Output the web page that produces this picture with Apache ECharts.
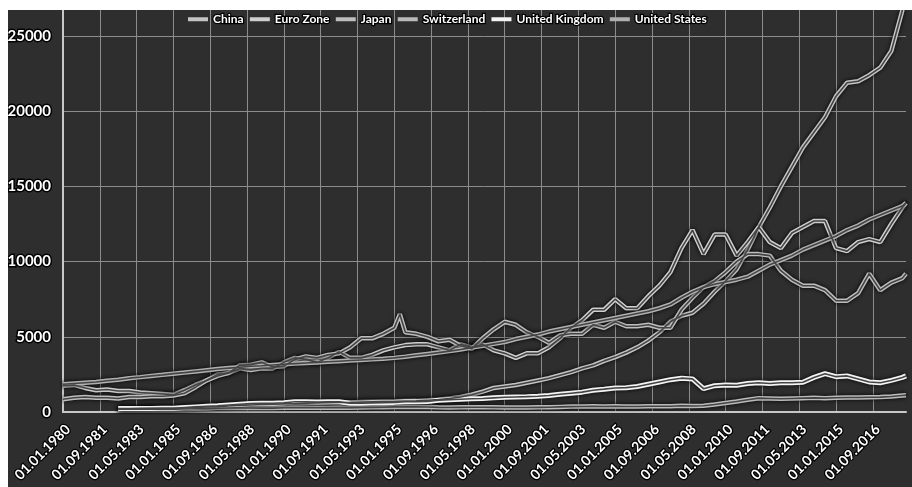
<!DOCTYPE html>
<html>
<head>
<meta charset="utf-8">
<script src="https://cdn.jsdelivr.net/npm/echarts@6/dist/echarts.min.js"></script>
<style>
  html, body { margin: 0; padding: 0; background: #ffffff; }
  #chart { position: absolute; left: 0; top: 0; width: 912px; height: 487px; }
  .mask { position: absolute; background: #ffffff; z-index: 10; }
</style>
</head>
<body>
<div id="chart"></div>
<div class="mask" style="left:0;top:0;width:912px;height:10px;"></div>
<div class="mask" style="left:0;top:0;width:8px;height:487px;"></div>
<script>
// ---- data ----
const seriesNames = ['China', 'Euro Zone', 'Japan', 'Switzerland', 'United Kingdom', 'United States'];

const sampleDates = [
  '1980-01','1980-07','1981-01','1981-07','1982-01','1982-07','1983-01','1983-07','1984-01','1984-07',
  '1985-01','1985-07','1986-01','1986-07','1987-01','1987-07','1988-01','1988-07','1989-01','1989-07',
  '1990-01','1990-07','1991-01','1991-07','1992-01','1992-07','1993-01','1993-07','1994-01','1994-07',
  '1995-01','1995-04','1995-07','1996-01','1996-07','1997-01','1997-07','1998-01','1998-07','1999-01','1999-07',
  '2000-01','2000-07','2001-01','2001-07','2002-01','2002-07','2003-01','2003-07','2004-01','2004-07',
  '2005-01','2005-07','2006-01','2006-07','2007-01','2007-07','2008-01','2008-07','2009-01','2009-07',
  '2010-01','2010-07','2011-01','2011-07','2012-01','2012-07','2013-01','2013-07','2014-01','2014-07',
  '2015-01','2015-07','2016-01','2016-07','2017-01','2017-07','2018-01','2018-03'
];

const china = [
  null,null,null,null,null,200,210,220,230,240,
  250,270,300,330,360,400,440,470,500,520,
  540,560,590,610,620,630,640,660,680,700,
  710,null,730,740,780,820,900,1000,1150,1350,1600,
  1700,1800,1950,2100,2250,2450,2650,2900,3100,3400,
  3650,3950,4300,4750,5300,6000,6400,6600,7200,8000,
  8700,9500,10800,12300,13600,15000,16300,17600,18600,19600,
  21000,21900,22000,22400,22900,24000,26700,28500
];
const euroZone = [
  1750,1800,1600,1450,1500,1400,1400,1300,1250,1200,
  1150,1450,1800,2100,2500,2600,2900,2800,2900,2900,
  3300,3600,3500,3300,3600,4000,3600,3600,3800,4100,
  4300,null,4450,4500,4500,4300,4100,4500,4300,4500,4100,
  3900,3600,3900,3900,4300,4900,5600,6100,6800,6800,
  7500,6900,6900,7700,8400,9300,10900,12100,10500,11800,
  11800,10400,11300,12300,11300,10900,11900,12300,12700,12700,
  10900,10700,11300,11500,11300,12500,13600,13900
];
const japan = [
  850,950,1000,950,950,900,1000,1000,1050,1050,
  1100,1250,1650,2100,2400,2600,3100,3150,3300,3000,
  3050,3500,3700,3600,3800,3900,4300,4900,4900,5200,
  5600,6500,5300,5200,5000,4700,4800,4400,4200,4900,5500,
  6000,5800,5300,5000,4600,5100,5200,5200,5800,5600,
  6000,5700,5700,5800,5600,5600,6800,7600,8300,8700,
  9300,10000,10500,10500,10400,9400,8800,8400,8400,8100,
  7400,7400,7900,9200,8100,8600,8900,9200
];
const switzerland = [
  null,null,null,null,null,180,180,190,190,190,
  190,200,220,240,260,270,280,270,260,260,
  280,300,290,280,290,300,290,300,310,320,
  340,null,350,340,330,310,300,310,320,320,310,
  300,300,300,310,320,340,360,370,380,370,
  380,370,370,380,380,380,420,400,420,500,
  600,700,820,920,900,880,900,920,940,920,
  950,960,960,980,990,1030,1100,1120
];
const unitedKingdom = [
  null,null,null,null,null,230,230,240,240,250,
  250,300,340,380,420,470,520,560,580,580,
  620,680,680,660,680,680,580,590,610,620,
  640,null,680,680,700,780,820,850,880,900,940,
  980,1000,1020,1050,1100,1180,1250,1320,1450,1520,
  1600,1620,1700,1850,2000,2150,2250,2200,1550,1750,
  1800,1780,1900,1950,1900,1950,1950,1980,2300,2550,
  2350,2400,2200,2000,1950,2100,2300,2400
];
const unitedStates = [
  1850,1900,1950,2000,2080,2150,2250,2320,2400,2470,
  2550,2620,2700,2780,2860,2920,2980,3040,3080,3130,
  3180,3220,3260,3300,3340,3380,3420,3460,3500,3540,
  3600,null,3680,3770,3860,3950,4050,4160,4280,4400,4530,
  4650,4850,5000,5150,5350,5500,5650,5800,5950,6100,
  6250,6400,6550,6700,6900,7150,7600,8000,8300,8500,
  8650,8800,9000,9400,9800,10100,10400,10800,11100,11400,
  11700,12100,12400,12800,13100,13400,13700,13900
];

const yTicks = [0, 5000, 10000, 15000, 20000, 25000];

// ---- monthly category axis 1980-01 .. 2018-03 ----
const firstYear = 1980, monthCount = 459;
const categories = [];
for (let m = 0; m < monthCount; m++) {
  const y = firstYear + Math.floor(m / 12);
  const mo = (m % 12) + 1;
  categories.push('01.' + (mo < 10 ? '0' + mo : mo) + '.' + y);
}
function toMonthly(values) {
  const out = new Array(monthCount).fill(null);
  sampleDates.forEach((d, i) => {
    const y = parseInt(d.slice(0, 4), 10), mo = parseInt(d.slice(5, 7), 10);
    const idx = (y - firstYear) * 12 + (mo - 1);
    if (values[i] !== null && values[i] !== undefined) out[idx] = values[i];
  });
  return out;
}

const seriesValues = [china, euroZone, japan, switzerland, unitedKingdom, unitedStates];
const outerColors = ['#c4c4c4', '#cfcfcf', '#bdbdbd', '#bababa', '#f4f4f4', '#b0b0b0'];

const series = [];
seriesValues.forEach((vals, i) => {
  series.push({
    name: seriesNames[i], type: 'line', data: toMonthly(vals), connectNulls: true,
    showSymbol: false, symbol: 'none', z: 2 + i,
    lineStyle: { color: outerColors[i], width: i === 4 ? 5 : 4.5,
      shadowColor: 'rgba(0,0,0,0.95)', shadowBlur: 4 },
    itemStyle: { color: outerColors[i] }
  });
});
seriesValues.forEach((vals, i) => {
  series.push({
    name: seriesNames[i] + ' core', type: 'line', data: toMonthly(vals), connectNulls: true,
    showSymbol: false, symbol: 'none', silent: true, z: 20,
    lineStyle: { color: '#444444', width: 1.6 }
  });
});

const labelText = {
  color: '#ffffff', fontFamily: 'Lato', fontWeight: 'bold', fontSize: 14,
  textBorderColor: '#000000', textBorderWidth: 2.5
};

const chart = echarts.init(document.getElementById('chart'), null, { renderer: 'canvas' });
chart.setOption({
  animation: false,
  backgroundColor: '#2e2e2e',
  legend: {
    data: seriesNames, left: 188, top: 10, padding: [2, 0, 2, 0],
    itemWidth: 20, itemHeight: 4, itemGap: 5,
    icon: 'rect',
    textStyle: { color: '#ffffff', fontFamily: 'Lato', fontWeight: 'bold', fontSize: 12,
      textBorderColor: '#000000', textBorderWidth: 2.5 }
  },
  grid: { left: 63, right: 6, top: 0, bottom: 75 },
  xAxis: {
    type: 'category', data: categories, boundaryGap: false,
    axisLine: { show: true, lineStyle: { color: '#c8c8c8', width: 2 } },
    axisTick: { show: false },
    axisLabel: Object.assign({ interval: 19, rotate: 45, margin: 10, verticalAlign: 'top' }, labelText),
    splitLine: { show: true, interval: 19, lineStyle: { color: '#8c8c8c', width: 1 } }
  },
  yAxis: {
    type: 'value', min: yTicks[0], max: 27400, interval: yTicks[1] - yTicks[0],
    axisLine: { show: true, lineStyle: { color: '#c8c8c8', width: 2 } },
    axisTick: { show: false },
    axisLabel: Object.assign({ margin: 12, showMaxLabel: false,
      formatter: function (v) { return String(v); } }, labelText, { fontSize: 15, textBorderWidth: 3 }),
    splitLine: { show: true, lineStyle: { color: '#8c8c8c', width: 1 } }
  },
  series: series
});
</script>
</body>
</html>
